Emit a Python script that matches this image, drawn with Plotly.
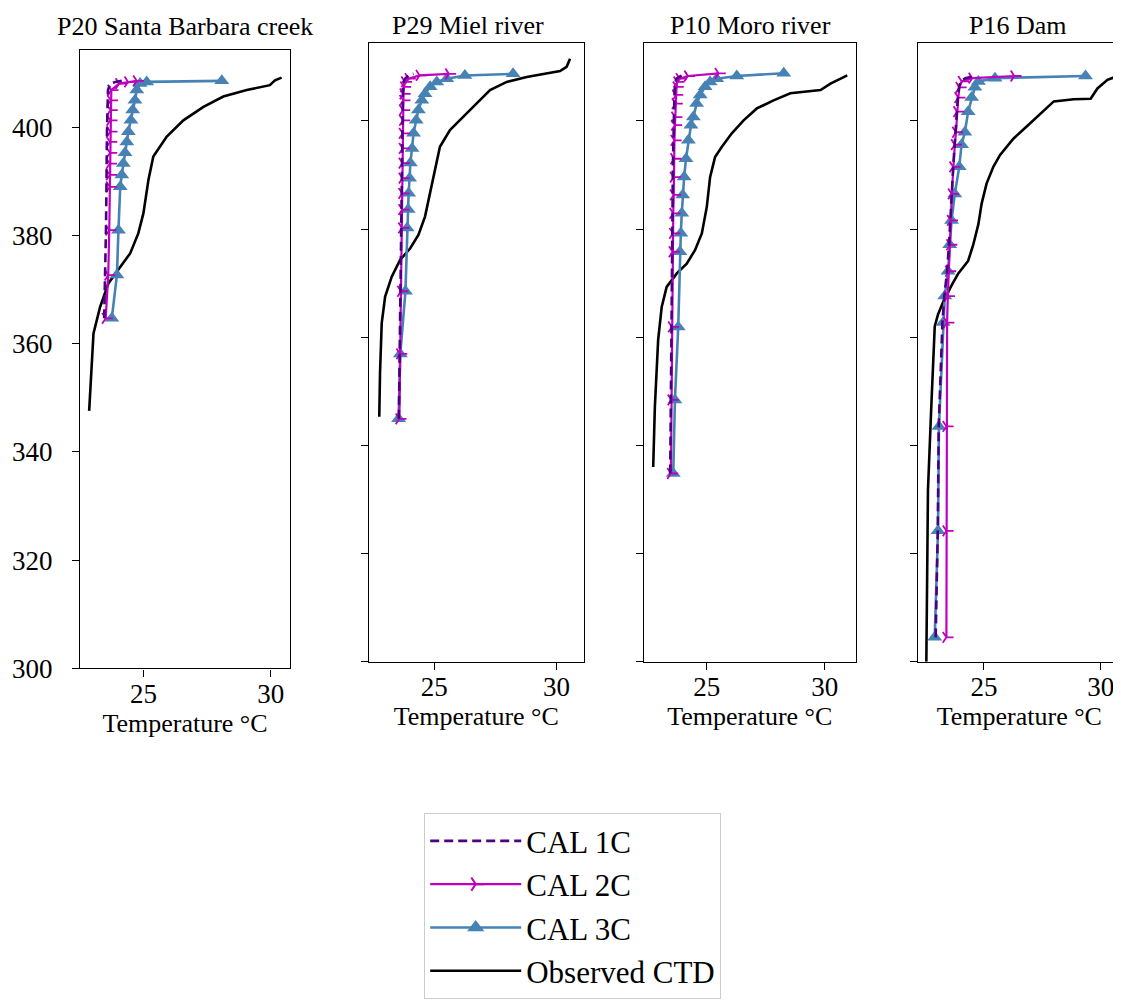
import plotly.graph_objects as go

# ---------------- data ----------------
panel_titles = ["P20 Santa Barbara creek", "P29 Miel river", "P10 Moro river", "P16 Dam"]
series_names = ["CAL 1C", "CAL 2C", "CAL 3C", "Observed CTD"]
x_ticks = [25, 30]
y_ticks = [300, 320, 340, 360, 380, 400]

# P20 Santa Barbara creek
p20_elev = [364.7, 372.7, 381.0, 389.0, 391.2, 393.3, 395.3, 397.3, 399.2, 401.3, 403.2, 405.0, 406.9, 408.1, 408.4, 408.6]
p20_cal1 = [23.46, 23.50, 23.53, 23.55, 23.55, 23.56, 23.56, 23.57, 23.57, 23.58, 23.59, 23.60, 23.61, 23.70, 23.90, 24.15]
p20_cal2 = [23.52, 23.62, 23.66, 23.68, 23.68, 23.68, 23.69, 23.69, 23.70, 23.70, 23.71, 23.72, 23.74, 24.05, 24.40, 24.74]
p20_cal3 = [23.76, 23.96, 24.02, 24.09, 24.15, 24.21, 24.28, 24.35, 24.41, 24.51, 24.58, 24.67, 24.74, 24.87, 25.13, 28.08]
p20_ctd_t = [22.87, 22.95, 23.04, 23.30, 23.63, 24.09, 24.48, 24.80, 25.00, 25.20, 25.39, 25.92, 26.57, 27.36, 28.14, 29.06, 29.97, 30.17, 30.43]
p20_ctd_z = [347.6, 353.7, 361.9, 366.8, 371.2, 374.2, 376.7, 380.4, 384.1, 390.3, 394.6, 398.3, 401.3, 403.8, 405.7, 406.9, 407.8, 408.7, 409.2]

# P29 Miel river
p29_elev = [344.9, 356.9, 368.5, 380.2, 383.6, 386.6, 389.4, 392.2, 394.9, 397.7, 400.1, 402.0, 403.8, 405.0, 406.3, 407.2, 407.8, 408.4, 408.7]
p29_cal1 = [23.55, 23.58, 23.62, 23.65, 23.66, 23.66, 23.67, 23.67, 23.68, 23.68, 23.69, 23.69, 23.70, 23.70, 23.72, 23.74, 23.80, 23.95, 24.15]
p29_cal2 = [23.57, 23.60, 23.64, 23.68, 23.69, 23.69, 23.70, 23.70, 23.71, 23.71, 23.72, 23.72, 23.73, 23.74, 23.76, 23.80, 23.95, 24.40, 25.60]
p29_cal3 = [23.54, 23.61, 23.82, 23.89, 23.93, 23.95, 23.99, 24.02, 24.09, 24.15, 24.26, 24.35, 24.49, 24.62, 24.83, 25.10, 25.51, 26.25, 28.22]
p29_ctd_t = [22.75, 22.78, 22.85, 22.99, 23.26, 23.60, 24.01, 24.35, 24.62, 24.82, 25.03, 25.23, 25.64, 26.05, 26.59, 27.28, 27.96, 28.78, 30.14, 30.41, 30.55]
p29_ctd_z = [345.3, 353.3, 362.6, 367.5, 371.2, 374.3, 376.4, 378.9, 382.3, 386.6, 391.5, 395.2, 398.3, 400.1, 402.6, 405.7, 407.2, 408.1, 409.2, 410.0, 411.5]

# P10 Moro river
p10_elev = [334.8, 348.4, 361.9, 375.8, 379.2, 382.9, 386.3, 389.6, 393.0, 396.4, 399.2, 400.7, 403.2, 404.8, 406.3, 407.2, 407.8, 408.3, 408.8]
p10_cal1 = [23.45, 23.47, 23.49, 23.52, 23.53, 23.54, 23.55, 23.56, 23.57, 23.58, 23.60, 23.60, 23.62, 23.63, 23.65, 23.67, 23.72, 23.90, 24.15]
p10_cal2 = [23.48, 23.50, 23.52, 23.55, 23.57, 23.58, 23.60, 23.60, 23.62, 23.63, 23.65, 23.66, 23.68, 23.70, 23.72, 23.75, 23.85, 24.20, 25.50]
p10_cal3 = [23.58, 23.65, 23.79, 23.86, 23.90, 23.94, 23.98, 24.04, 24.12, 24.22, 24.33, 24.43, 24.57, 24.72, 24.93, 25.14, 25.42, 26.27, 28.26]
p10_ctd_t = [22.73, 22.80, 22.94, 23.09, 23.30, 23.73, 24.15, 24.50, 24.79, 25.00, 25.14, 25.35, 25.64, 26.06, 26.56, 27.12, 27.83, 28.54, 29.82, 30.24, 30.95]
p10_ctd_z = [336.0, 347.1, 359.5, 365.6, 369.3, 371.8, 373.6, 376.1, 379.2, 384.1, 389.6, 393.3, 395.2, 397.7, 400.1, 402.3, 403.8, 405.1, 405.7, 406.9, 408.4]

# P16 Dam
p16_elev = [304.5, 324.2, 343.5, 362.7, 367.6, 372.2, 377.1, 381.6, 386.5, 391.5, 395.6, 397.9, 401.7, 404.3, 406.2, 407.3, 407.9, 408.3]
p16_cal1 = [22.93, 23.02, 23.06, 23.22, 23.30, 23.42, 23.50, 23.57, 23.62, 23.68, 23.74, 23.78, 23.83, 23.88, 23.93, 24.00, 24.20, 24.60]
p16_cal2 = [23.39, 23.39, 23.39, 23.42, 23.45, 23.50, 23.55, 23.58, 23.62, 23.68, 23.75, 23.80, 23.85, 23.90, 23.95, 24.05, 24.50, 26.30]
p16_cal3 = [22.89, 23.03, 23.07, 23.25, 23.32, 23.46, 23.53, 23.61, 23.75, 23.94, 24.04, 24.18, 24.32, 24.47, 24.61, 24.76, 25.47, 29.35]
p16_ctd_t = [22.53, 22.60, 22.74, 22.82, 22.89, 23.03, 23.25, 23.60, 23.90, 24.32, 24.54, 24.76, 24.90, 25.11, 25.40, 25.69, 26.26, 26.84, 27.41, 27.99, 28.85, 29.57, 29.86, 30.29, 30.86]
p16_ctd_z = [300.0, 331.7, 346.9, 355.9, 362.0, 364.2, 366.5, 369.5, 371.8, 374.1, 377.1, 380.9, 384.7, 388.4, 391.5, 393.7, 396.7, 399.0, 401.3, 403.6, 404.0, 404.1, 406.0, 407.6, 408.5]

panels = [
    (p20_elev, p20_cal1, p20_cal2, p20_cal3, p20_ctd_t, p20_ctd_z),
    (p29_elev, p29_cal1, p29_cal2, p29_cal3, p29_ctd_t, p29_ctd_z),
    (p10_elev, p10_cal1, p10_cal2, p10_cal3, p10_ctd_t, p10_ctd_z),
    (p16_elev, p16_cal1, p16_cal2, p16_cal3, p16_ctd_t, p16_ctd_z),
]

# ---------------- layout geometry (page pixels) ----------------
OFF = 8                      # default body margin of the html page
W, H = 1121 - OFF, 1001 - OFF
boxes = [  # left, right, top, bottom (page pixels)
    (80, 290, 50, 668.3),
    (369, 583.5, 43, 661.7),
    (644, 855.5, 43, 661.7),
    (917.7, 1121, 43, 661.7),
]
x_ranges = [[22.51, 30.76], [22.33, 31.1], [22.34, 31.3], [22.16, 30.87]]
y_ranges = [[300, 414.3], [300, 414.4], [300, 414.4], [300, 414.4]]
title_pos = [(185, 27), (468, 25), (750, 25), (1018, 25)]


def fx(px):
    return min(1.0, (px - OFF) / W)


def fy(py):
    return 1 - (py - OFF) / H


FONT = "Liberation Serif"
C1, C2, C3, CK = "#4b0082", "#bf00bf", "#4682b4", "#000000"

fig = go.Figure()
for i, (elev, c1, c2, c3, ct, cz) in enumerate(panels):
    n = "" if i == 0 else str(i + 1)
    xa, ya = "x" + n, "y" + n
    fig.add_trace(go.Scatter(x=ct, y=cz, mode="lines", name=series_names[3],
                             line=dict(color=CK, width=2.6), xaxis=xa, yaxis=ya,
                             showlegend=False, legendgroup="ctd"))
    fig.add_trace(go.Scatter(x=c3, y=elev, mode="lines+markers", name=series_names[2],
                             line=dict(color=C3, width=2.6),
                             marker=dict(symbol="triangle-up", size=13, color=C3),
                             xaxis=xa, yaxis=ya, showlegend=False, legendgroup="c3"))
    fig.add_trace(go.Scatter(x=c2, y=elev, mode="lines+markers", name=series_names[1],
                             line=dict(color=C2, width=2.2),
                             marker=dict(symbol="y-right-open", size=9,
                                         line=dict(color=C2, width=1.8)),
                             xaxis=xa, yaxis=ya, showlegend=False, legendgroup="c2"))
    fig.add_trace(go.Scatter(x=c1, y=elev, mode="lines", name=series_names[0],
                             line=dict(color=C1, width=2.6, dash="9px,5px"),
                             xaxis=xa, yaxis=ya, showlegend=False, legendgroup="c1"))

# legend-only traces in the required order
leg_specs = [
    (series_names[0], dict(color=C1, width=2.6, dash="9px,5px"), None, "lines", "c1"),
    (series_names[1], dict(color=C2, width=2.2), dict(symbol="y-right-open", size=11, line=dict(color=C2, width=2)), "lines+markers", "c2"),
    (series_names[2], dict(color=C3, width=2.6), dict(symbol="triangle-up", size=15, color=C3), "lines+markers", "c3"),
    (series_names[3], dict(color=CK, width=2.6), None, "lines", "ctd"),
]
for name, ln, mk, mode, grp in leg_specs:
    kw = dict(x=[None], y=[None], mode=mode, name=name, line=ln, legendgroup=grp,
              showlegend=True, xaxis="x", yaxis="y")
    if mk is not None:
        kw["marker"] = mk
    fig.add_trace(go.Scatter(**kw))

layout = dict(
    width=W, height=H,
    margin=dict(l=0, r=0, t=0, b=0),
    paper_bgcolor="white", plot_bgcolor="white",
    font=dict(family=FONT, color="black", size=26),
    legend=dict(x=fx(424), y=fy(813), xanchor="left", yanchor="top",
                bordercolor="#cccccc", borderwidth=1.2, bgcolor="white",
                font=dict(family=FONT, size=31, color="black"),
                itemwidth=91, tracegroupgap=0, traceorder="normal"),
    annotations=[],
)
for i in range(4):
    n = "" if i == 0 else str(i + 1)
    l, r, t, b = boxes[i]
    layout["xaxis" + n] = dict(
        domain=[fx(l), fx(r)], range=x_ranges[i], anchor="y" + n,
        showline=True, linecolor="black", linewidth=1.4, mirror=True,
        ticks="outside", ticklen=7, tickwidth=1.4, tickcolor="black",
        tickvals=x_ticks, tickfont=dict(family=FONT, size=27, color="black"),
        ticklabelstandoff=-6,
        showgrid=False, zeroline=False,
        title=dict(text="Temperature °C", font=dict(family=FONT, size=26, color="black"), standoff=4),
        automargin=False,
    )
    layout["yaxis" + n] = dict(
        domain=[fy(b), fy(t)], range=y_ranges[i], anchor="x" + n,
        showline=True, linecolor="black", linewidth=1.4, mirror=(i != 3),
        ticks="outside", ticklen=7, tickwidth=1.4, tickcolor="black",
        tickvals=y_ticks, showticklabels=(i == 0),
        tickfont=dict(family=FONT, size=27, color="black"), ticklabelstandoff=14,
        showgrid=False, zeroline=False, automargin=False,
    )
    tx, ty = title_pos[i]
    layout["annotations"].append(dict(
        text=panel_titles[i], x=fx(tx), y=fy(ty), xref="paper", yref="paper",
        xanchor="center", yanchor="middle", showarrow=False,
        font=dict(family=FONT, size=26, color="black")))

fig.update_layout(**layout)
fig.write_html("out.html")
